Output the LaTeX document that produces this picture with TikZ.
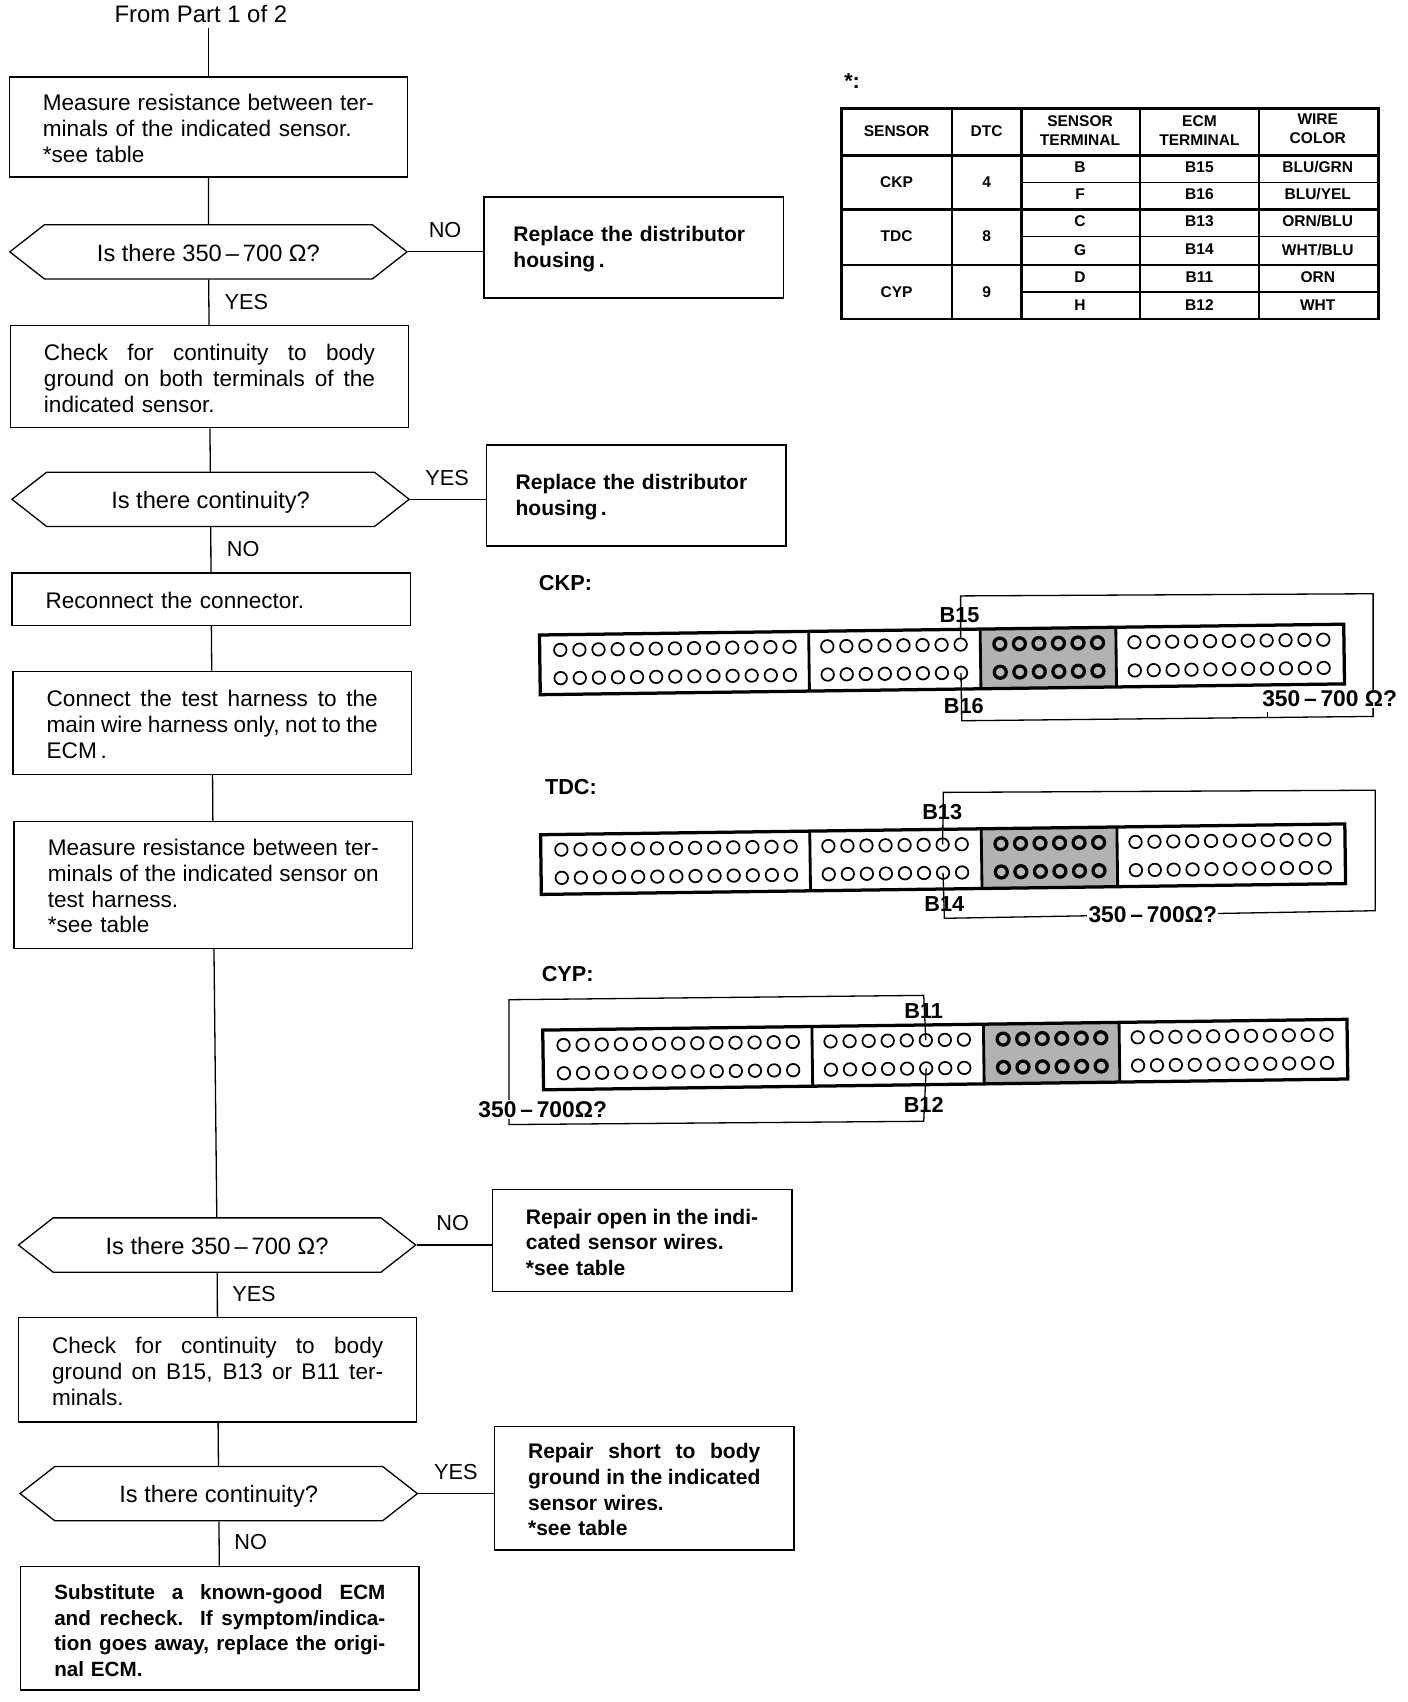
\documentclass[tikz,border=0pt]{standalone}
\usepackage{fontspec}
\setmainfont{Liberation Sans}
\usepackage{tikz}
\usetikzlibrary{positioning,shapes,shapes.symbols,calc}
\newcommand{\fillline}[1]{\makebox[\hsize][s]{\spaceskip=0pt\xspaceskip=0pt #1}}
\tikzset{
    stepbox/.style={rectangle, draw, line width=1.2pt, text width=305pt, inner xsep=31pt, inner ysep=0pt, align=left, font=\fontsize{20.8}{23.7}\selectfont, execute at begin node={\rule{0pt}{18pt}}},
    sidebox/.style={rectangle, draw, line width=1.2pt, text width=214pt, inner xsep=31pt, inner ysep=0pt, align=left, font=\fontsize{19.4}{23.7}\selectfont\bfseries, execute at begin node={\rule{0pt}{17pt}}},
    ask/.style={shape=signal, signal to=east and west, signal pointer angle=76, draw, line width=1.2pt, minimum width=366pt, minimum height=50pt, inner sep=0pt, font=\fontsize{21.8}{24}\selectfont, text height=21pt, text depth=4pt},
    answer/.style={font=\fontsize{20}{23.5}\selectfont, inner sep=0pt},
    tagtext/.style={font=\fontsize{20}{23.5}\selectfont\bfseries, inner sep=0pt},
    reading/.style={font=\fontsize{21}{23.5}\selectfont\bfseries, fill=white, inner sep=1pt},
    cell/.style={font=\fontsize{14.3}{17.5}\selectfont\bfseries, align=center, inner sep=0pt},
    flow/.style={line width=1.2pt},
    wire/.style={line width=1.2pt},
    rule/.style={line width=1.4pt},
    heavyrule/.style={line width=2.4pt},
    hole/.style={circle, draw, line width=1.6pt, fill=white, minimum size=11.5pt, inner sep=0pt},
    blockhole/.style={circle, draw, line width=3pt, fill=gray!55, minimum size=11pt, inner sep=0pt},
}
% one ECM connector, top left corner at #2, holes named from #1
\newcommand{\ecmblock}[2]{
\begin{scope}[shift={#2},rotate=0.77]
\fill[gray!60] (406,0) rectangle (531,55);
\draw[line width=3pt] (0,0) rectangle (741,55);
\draw[line width=2.6pt] (248,0) -- (248,55);
\draw[line width=2.6pt] (406,0) -- (406,55);
\draw[line width=2.6pt] (531,0) -- (531,55);
\foreach \n in {1,...,13} {
    \node[hole] (#1a\n) at ({19+(\n-1)*17.6},14) {};
    \node[hole] (#1b\n) at ({19+(\n-1)*17.6},40) {};
}
\foreach \n in {1,...,8} {
    \node[hole] (#1c\n) at ({265+(\n-1)*17.55},14) {};
    \node[hole] (#1d\n) at ({265+(\n-1)*17.55},40) {};
}
\foreach \n in {1,...,6} {
    \node[blockhole] (#1e\n) at ({424+(\n-1)*18},14) {};
    \node[blockhole] (#1f\n) at ({424+(\n-1)*18},40) {};
}
\foreach \n in {1,...,11} {
    \node[hole] (#1g\n) at ({548+(\n-1)*17.4},14) {};
    \node[hole] (#1h\n) at ({548+(\n-1)*17.4},40) {};
}
\end{scope}
}

\begin{document}
\begin{tikzpicture}[x=1pt,y=-1pt]
\useasboundingbox (0,0) rectangle (1297,1568);

% Left column
\node[answer, font=\fontsize{22}{24}\selectfont] (from) at (185,13) {From Part 1 of 2};
\node[stepbox, minimum height=92pt] (measure) at (192,117) {\fillline{Measure resistance between ter-}\\minals of the indicated sensor.\\{*}see table};
\node[ask] (ohms) at (192,232) {Is there 350\,–\,700 Ω?};
\node[stepbox, minimum height=94pt] (body) at (193,347) {\fillline{Check for continuity to body}\\\fillline{ground on both terminals of the}\\indicated sensor.};
\node[ask] (cont) at (194,460) {Is there continuity?};
\node[stepbox, minimum height=48pt] (reconnect) at (194.5,552) {Reconnect the connector.};
\node[stepbox, minimum height=95pt] (harness) at (195.5,666) {\fillline{Connect the test harness to the}\\\fillline{main wire harness only, not to the}\\ECM\,.};
\node[stepbox, minimum height=117pt] (measuretwo) at (196.5,815) {\fillline{Measure resistance between ter-}\\\fillline{minals of the indicated sensor on}\\test harness.\\{*}see table};
\node[ask] (ohmstwo) at (200,1147) {Is there 350\,–\,700 Ω?};
\node[stepbox, minimum height=96pt] (bodytwo) at (200.5,1262) {\fillline{Check for continuity to body}\\\fillline{ground on B15, B13 or B11 ter-}\\minals.};
\node[ask] (conttwo) at (201.5,1376) {Is there continuity?};
\node[stepbox, minimum height=114pt, font=\fontsize{19}{23.7}\selectfont\bfseries] (ecm) at (202.5,1500) {\fillline{Substitute a known-good ECM}\\\fillline{and recheck. If symptom/indica-}\\\fillline{tion goes away, replace the origi-}\\nal ECM.};

% Right hand boxes
\node[sidebox, minimum height=93pt, inner xsep=27pt, text width=222pt] (housing) at (584,228) {Replace the distributor\\housing\,.};
\node[sidebox, minimum height=93pt, inner xsep=27pt, text width=222pt] (housingtwo) at (586,456.5) {Replace the distributor\\housing\,.};
\node[sidebox, minimum height=94pt] (open) at (591.5,1143) {\fillline{Repair open in the indi-}\\cated sensor wires.\\{*}see table};
\node[sidebox, minimum height=114pt] (short) at (593.5,1371) {\fillline{Repair short to body}\\\fillline{ground in the indicated}\\sensor wires.\\{*}see table};

% Answers
\node[answer] (no1) at (410,212) {NO};
\node[answer] (yes1) at (227,278) {YES};
\node[answer] (yes2) at (412,440) {YES};
\node[answer] (no2) at (224,506) {NO};
\node[answer] (no3) at (417,1127) {NO};
\node[answer] (yes3) at (234,1192) {YES};
\node[answer] (yes4) at (420,1356) {YES};
\node[answer] (no4) at (231,1421) {NO};

% Flow lines
\coordinate (fromend) at (192,26);
\draw[flow] (fromend) -- (measure.north);
\draw[flow] (measure) -- (ohms);
\draw[flow] (ohms) -- (body);
\draw[flow] (body) -- (cont);
\draw[flow] (cont) -- (reconnect);
\draw[flow] (reconnect) -- (harness);
\draw[flow] (harness) -- (measuretwo);
\draw[flow] (measuretwo) -- (ohmstwo);
\draw[flow] (ohmstwo) -- (bodytwo);
\draw[flow] (bodytwo) -- (conttwo);
\draw[flow] (conttwo) -- (ecm);
\draw[flow] (ohms.east) -- (ohms.east -| housing.west);
\draw[flow] (cont.east) -- (cont.east -| housingtwo.west);
\draw[flow] (ohmstwo.east) -- (ohmstwo.east -| open.west);
\draw[flow] (conttwo.east) -- (conttwo.east -| short.west);

% Table
\node[tagtext] (star) at (785,75) {*:};
\draw[heavyrule] (775,100) rectangle (1270,294);
\foreach \yy in {143,193,244} {
    \draw[heavyrule] (775,\yy) -- (1270,\yy);
}
\foreach \yy in {168,218,269} {
    \draw[rule] (941,\yy) -- (1270,\yy);
}
\draw[heavyrule] (877,100) -- (877,294);
\draw[heavyrule] (941,100) -- (941,294);
\draw[rule] (1050,100) -- (1050,294);
\draw[rule] (1160,100) -- (1160,294);
\node[cell] (hsensor) at (826,121) {SENSOR};
\node[cell] (hdtc) at (909,121) {DTC};
\node[cell] (hterm) at (995,120) {SENSOR\\TERMINAL};
\node[cell] (hecm) at (1105,120) {ECM\\TERMINAL};
\node[cell] (hwire) at (1214,119) {WIRE\\COLOR};
\foreach \nm/\yy/\dtc in {CKP/168/4,TDC/218/8,CYP/269/9} {
    \node[cell] (s\nm) at (826,\yy) {\nm};
    \node[cell] (d\nm) at (909,\yy) {\dtc};
}
\foreach \yy/\st/\ecm/\col in {154/B/B15/BLU\slash GRN,179/F/B16/BLU\slash YEL,204/C/B13/ORN\slash BLU,230/G/B14/WHT\slash BLU,255/D/B11/ORN,281/H/B12/WHT} {
    \node[cell] (t\st) at (995,\yy) {\st};
    \node[cell] (e\st) at (1105,\yy) {\ecm};
    \node[cell] (w\st) at (1214,\yy) {\col};
}

% CKP connector
\node[tagtext] (ckp) at (521,537) {CKP:};
\ecmblock{ckp}{(497,585)}
\draw[wire] (ckpc8) -- (885,549) -- (1265,547) -- (1265,660) -- (886,664) -- (ckpd8.center);
\draw[wire] (1168,661) -- (1168,656);
\node[reading] (ckpohm) at (1225,644) {350\,–\,700 Ω?};
\node[tagtext] (ckpb15) at (884,567) {B15};
\node[tagtext] (ckpb16) at (888,650) {B16};

% TDC connector
\node[tagtext] (tdc) at (526,725) {TDC:};
\ecmblock{tdc}{(498,769)}
\draw[wire] (tdcc7.center) -- (869,730) -- (1267,728) -- (1267,839) -- (870,846) -- (tdcd7.center);
\node[reading] (tdcohm) at (1062,843) {350\,–\,700Ω?};
\node[tagtext] (tdcb13) at (868,748) {B13};
\node[tagtext] (tdcb14) at (870,833) {B14};

% CYP connector
\node[tagtext] (cyp) at (523,897) {CYP:};
\ecmblock{cyp}{(500,949)}
\draw[wire] (cypc6.center) -- (851,917) -- (469,921) -- (469,1036) -- (851,1033) -- (cypd6.center);
\node[reading] (cypohm) at (500,1022) {350\,–\,700Ω?};
\node[tagtext] (cypb11) at (851,931) {B11};
\node[tagtext] (cypb12) at (851,1018) {B12};

\end{tikzpicture}
\end{document}
